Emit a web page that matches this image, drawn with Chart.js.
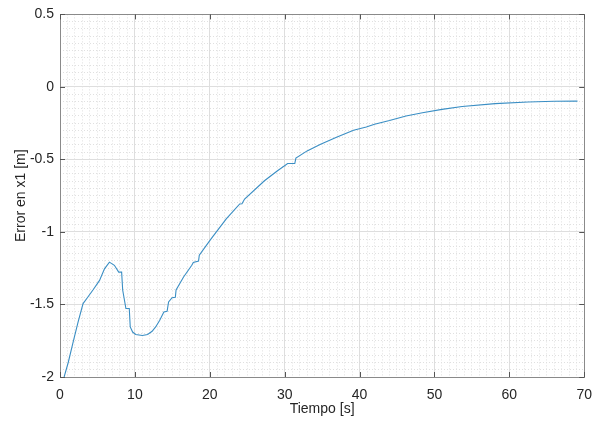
<!DOCTYPE html>
<html>
<head>
<meta charset="utf-8">
<script src="https://cdn.jsdelivr.net/npm/chart.js@4/dist/chart.umd.min.js"></script>
<style>
  html, body { margin: 0; padding: 0; background: #fff; }
  #wrap { width: 602px; height: 425px; }
</style>
</head>
<body>
<div id="wrap"><canvas id="chart"></canvas></div>
<script>
// values
const timeS = [
  0.55, 1.1, 1.76, 2.42, 3.08, 3.7, 4.4, 5.28, 5.94, 6.6,
  7.26, 7.84, 8.23, 8.37, 8.8, 9.25, 9.38, 9.7, 10.1, 11.0,
  11.7, 12.3, 12.77, 13.3, 13.87, 14.3, 14.5, 14.97, 15.4, 15.5,
  16.5, 17.6, 17.8, 18.5, 18.6, 20.0, 20.5, 22.2, 24.0, 24.3,
  24.65, 27.3, 29.0, 30.4, 31.35, 31.5, 33.0, 34.8, 37.0, 39.2,
  40.9, 42.0, 44.0, 46.2, 48.4, 51.0, 53.7, 58.1, 62.5, 66.0,
  69.1
];
const errorX1 = [
  -2.0, -1.9, -1.757, -1.62, -1.494, -1.45, -1.40, -1.334, -1.254, -1.208,
  -1.23, -1.277, -1.277, -1.40, -1.528, -1.528, -1.655, -1.69, -1.707, -1.714,
  -1.707, -1.685, -1.655, -1.61, -1.552, -1.547, -1.483, -1.453, -1.45, -1.40,
  -1.31, -1.23, -1.21, -1.20, -1.16, -1.06, -1.025, -0.91, -0.807, -0.805,
  -0.773, -0.647, -0.58, -0.528, -0.528, -0.491, -0.441, -0.395, -0.345, -0.299,
  -0.276, -0.258, -0.232, -0.20, -0.178, -0.155, -0.135, -0.115, -0.104, -0.099,
  -0.098
];
const xTicks = [0, 10, 20, 30, 40, 50, 60, 70];
const yTicks = [-2, -1.5, -1, -0.5, 0, 0.5];

const font = { family: 'Liberation Sans, Arial, sans-serif', size: 14 };
const txt = '#262626';

// MATLAB style box with inward ticks
const boxPlugin = {
  id: 'box',
  afterDraw(chart) {
    const { ctx, chartArea: a, scales } = chart;
    ctx.save();
    ctx.strokeStyle = '#8a8a8a';
    ctx.lineWidth = 1;
    ctx.strokeRect(Math.round(a.left) + 0.5, Math.round(a.top) + 0.5,
      Math.round(a.right - a.left), Math.round(a.bottom - a.top));
    ctx.strokeStyle = '#555';
    ctx.beginPath();
    xTicks.forEach((v) => {
      const px = Math.round(scales.x.getPixelForValue(v)) + 0.5;
      ctx.moveTo(px, a.bottom); ctx.lineTo(px, a.bottom - 5);
      ctx.moveTo(px, a.top); ctx.lineTo(px, a.top + 5);
    });
    yTicks.forEach((v) => {
      const py = Math.round(scales.y.getPixelForValue(v)) + 0.5;
      ctx.moveTo(a.left, py); ctx.lineTo(a.left + 5, py);
      ctx.moveTo(a.right, py); ctx.lineTo(a.right - 5, py);
    });
    ctx.stroke();
    ctx.restore();
  }
};

const isMajorX = (v) => Math.abs(v / 10 - Math.round(v / 10)) < 1e-6;
const isMajorY = (v) => Math.abs(v / 0.5 - Math.round(v / 0.5)) < 1e-6;

new Chart(document.getElementById('chart'), {
  type: 'line',
  data: {
    datasets: [{
      data: timeS.map((t, i) => ({ x: t, y: errorX1[i] })),
      borderColor: '#3a8ec4',
      borderWidth: 1.1,
      pointRadius: 0,
      tension: 0,
      fill: false
    }]
  },
  options: {
    responsive: true,
    maintainAspectRatio: false,
    animation: false,
    layout: { padding: { top: 13, right: 12, left: 0, bottom: 0 } },
    plugins: { legend: { display: false }, tooltip: { enabled: false } },
    scales: {
      x: {
        type: 'linear', min: 0, max: 70, position: 'bottom',
        afterBuildTicks: (s) => { s.ticks = xTicks.map((v) => ({ value: v })); },
        afterFit: (s) => { s.height = 48; },
        ticks: { font, color: txt, padding: 10, maxRotation: 0, autoSkip: false, callback: (v) => String(v) },
        grid: { color: '#dedede', drawTicks: false },
        border: { display: false },
        title: { display: true, text: 'Tiempo [s]', font, color: txt, padding: { top: 0, bottom: 7 } }
      },
      y: {
        type: 'linear', min: -2, max: 0.5, position: 'left',
        afterBuildTicks: (s) => { s.ticks = yTicks.map((v) => ({ value: v })); },
        afterFit: (s) => { s.width = 60; },
        ticks: { font, color: txt, padding: 6, autoSkip: false, callback: (v) => String(v) },
        grid: { color: '#dedede', drawTicks: false },
        border: { display: false },
        title: { display: true, text: 'Error en x1 [m]', font, color: txt, padding: { top: 13, bottom: 0 } }
      },
      xm: {
        type: 'linear', min: 0, max: 70, position: 'bottom',
        ticks: { display: false, stepSize: 1, autoSkip: false },
        afterFit: (s) => { s.height = 0; },
        grid: {
          drawTicks: false,
          color: (c) => (c.tick && isMajorX(c.tick.value) ? 'rgba(0,0,0,0)' : '#e0e0e0')
        },
        border: { display: false, dash: [1, 2] }
      },
      ym: {
        type: 'linear', min: -2, max: 0.5, position: 'left',
        ticks: { display: false, stepSize: 0.05, autoSkip: false },
        afterFit: (s) => { s.width = 0; },
        grid: {
          drawTicks: false,
          color: (c) => (c.tick && isMajorY(c.tick.value) ? 'rgba(0,0,0,0)' : '#e0e0e0')
        },
        border: { display: false, dash: [1, 2] }
      }
    }
  },
  plugins: [boxPlugin]
});
</script>
</body>
</html>
